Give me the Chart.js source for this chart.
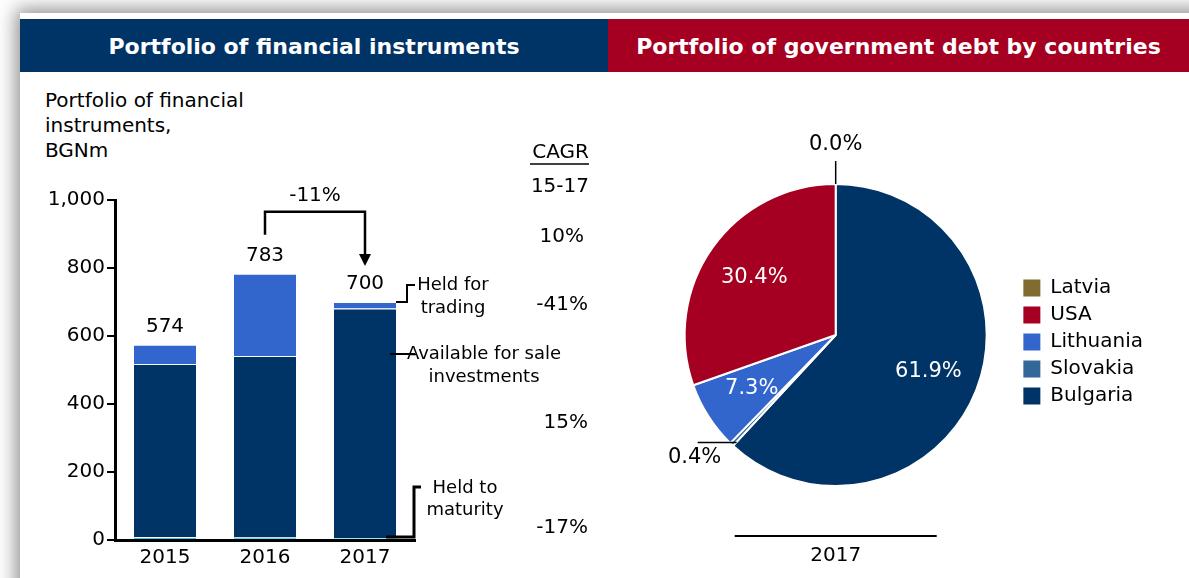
<!DOCTYPE html>
<html>
<head>
<meta charset="utf-8">
<script src="https://cdn.jsdelivr.net/npm/chart.js@4.4.0/dist/chart.umd.min.js"></script>
<style>
  html, body { margin: 0; padding: 0; width: 1189px; height: 578px; overflow: hidden; background: #fff; font-family: "DejaVu Sans", Verdana, sans-serif; }
  #frame { position: absolute; left: 20px; top: 13px; width: 1300px; height: 700px; background: #fff; box-shadow: 0 0 18px 4px rgba(0,0,0,0.45); }
  .hdr { position: absolute; top: 19px; height: 53px; line-height: 55px; color: #fff; font-weight: bold; font-size: 22px; text-align: center; }
  #h1 { left: 20px; width: 588px; background: #003366; }
  #h2 { left: 608px; width: 581px; background: #a50021; }
  #ytitle { position: absolute; left: 45px; top: 88px; font-size: 20px; line-height: 25px; color: #000; }
  canvas { position: absolute; }
</style>
</head>
<body>
<div id="frame"></div>
<div class="hdr" id="h1">Portfolio of financial instruments</div>
<div class="hdr" id="h2">Portfolio of government debt by countries</div>
<div id="ytitle">Portfolio of financial<br>instruments,<br>BGNm</div>
<canvas id="bars" width="608" height="578" style="left:0;top:0"></canvas>
<canvas id="pie" width="581" height="506" style="left:608px;top:72px"></canvas>
<script>
// bar chart data, BGNm
var years = ["2015", "2016", "2017"];
var heldToMaturity = [9, 7, 6.2];
var availableForSale = [509, 534, 674.5];
var heldForTrading = [56, 242, 19.5];
var yMax = 1000;
var yStep = 200;

// pie data, % of government debt, 2017
var countries = ["Bulgaria", "Slovakia", "Lithuania", "USA", "Latvia"];
var debtShare = [61.9, 0.4, 7.3, 30.4, 0.0];
var countryColors = ["#003366", "#336699", "#3366cc", "#a50021", "#7f6d2f"];

var totals = years.map(function (y, i) {
  return heldToMaturity[i] + availableForSale[i] + heldForTrading[i];
});
function cagr(a) {
  var r = Math.pow(a[a.length - 1] / a[0], 1 / (a.length - 1)) - 1;
  return Math.round(r * 100) + "%";
}

Chart.defaults.font.family = "'DejaVu Sans', Verdana, sans-serif";
Chart.defaults.color = "#000";

var barNotes = {
  id: "barNotes",
  afterDatasetsDraw: function (chart) {
    var ctx = chart.ctx, x = chart.scales.x, y = chart.scales.y;
    ctx.save();
    ctx.fillStyle = "#000";
    ctx.strokeStyle = "#000";
    ctx.textAlign = "center";
    ctx.textBaseline = "middle";
    ctx.font = "20px 'DejaVu Sans'";
    totals.forEach(function (t, i) {
      ctx.fillText(Math.round(t), x.getPixelForValue(i), y.getPixelForValue(t) - 18);
    });

    // change 2016 -> 2017
    var x1 = x.getPixelForValue(1), x2 = x.getPixelForValue(2);
    var t1 = y.getPixelForValue(totals[1]), t2 = y.getPixelForValue(totals[2]);
    var top = t1 - 62;
    ctx.lineWidth = 2.5;
    ctx.beginPath();
    ctx.moveTo(x1, t1 - 39);
    ctx.lineTo(x1, top);
    ctx.lineTo(x2, top);
    ctx.lineTo(x2, t2 - 46);
    ctx.stroke();
    ctx.beginPath();
    ctx.moveTo(x2 - 6, t2 - 48);
    ctx.lineTo(x2 + 6, t2 - 48);
    ctx.lineTo(x2, t2 - 36);
    ctx.closePath();
    ctx.fill();
    var ch = Math.round((totals[2] / totals[1] - 1) * 100) + "%";
    ctx.fillText(ch, (x1 + x2) / 2, top - 16);

    // series labels with leader lines
    ctx.font = "18px 'DejaVu Sans'";
    ctx.fillText("Held for", 453, 285);
    ctx.fillText("trading", 453, 308);
    ctx.fillText("Available for sale", 484, 354);
    ctx.fillText("investments", 484, 377);
    ctx.fillText("Held to", 465, 488);
    ctx.fillText("maturity", 465, 510);
    ctx.lineWidth = 2;
    ctx.beginPath();
    ctx.moveTo(396, 302); ctx.lineTo(407, 302); ctx.lineTo(407, 285); ctx.lineTo(415, 285);
    ctx.moveTo(390, 354); ctx.lineTo(415, 354);
    ctx.stroke();
    ctx.lineWidth = 3;
    ctx.beginPath();
    ctx.moveTo(386, 537); ctx.lineTo(414, 537); ctx.lineTo(414, 487); ctx.lineTo(421, 487);
    ctx.stroke();

    // CAGR column
    ctx.font = "20px 'DejaVu Sans'";
    ctx.textAlign = "right";
    ctx.fillText("CAGR", 589, 153);
    ctx.lineWidth = 1.5;
    ctx.beginPath(); ctx.moveTo(530, 164); ctx.lineTo(589, 164); ctx.stroke();
    ctx.fillText("15-17", 589, 187);
    ctx.fillText(cagr(totals), 584, 237);
    ctx.fillText(cagr(heldForTrading), 588, 305);
    ctx.fillText(cagr(availableForSale), 588, 423);
    ctx.fillText(cagr(heldToMaturity), 588, 528);
    ctx.restore();
  }
};

new Chart(document.getElementById("bars"), {
  type: "bar",
  data: {
    labels: years,
    datasets: [
      { label: "Held to maturity", data: heldToMaturity, backgroundColor: "#33ccee" },
      { label: "Available for sale investments", data: availableForSale, backgroundColor: "#003366" },
      { label: "Held for trading", data: heldForTrading, backgroundColor: "#3366cc" }
    ]
  },
  options: {
    responsive: false,
    animation: false,
    layout: { padding: { left: 0, right: 193, top: 200, bottom: 0 } },
    datasets: { bar: { borderColor: "#ffffff", borderWidth: 1, categoryPercentage: 0.8, barPercentage: 0.8 } },
    scales: {
      x: {
        stacked: true,
        afterFit: function (s) { s.height = 38; },
        grid: { display: false, drawTicks: false },
        border: { color: "#000", width: 3 },
        ticks: { font: { size: 20 }, padding: 6, color: "#000" }
      },
      y: {
        stacked: true,
        min: 0,
        max: yMax,
        afterFit: function (s) { s.width = 115; },
        grid: { drawOnChartArea: false, drawTicks: true, tickLength: 8, color: "#000", lineWidth: 2 },
        border: { color: "#000", width: 3 },
        ticks: {
          stepSize: yStep,
          font: { size: 20 },
          padding: 2,
          color: "#000",
          callback: function (v) { return v.toLocaleString("en-US"); }
        }
      }
    },
    plugins: { legend: { display: false }, tooltip: { enabled: false } }
  },
  plugins: [barNotes]
});

var pieLabels = {
  id: "pieLabels",
  afterDatasetsDraw: function (chart) {
    var ctx = chart.ctx, meta = chart.getDatasetMeta(0);
    var cx = meta.data[0].x, cy = meta.data[0].y, R = meta.data[0].outerRadius;
    ctx.save();
    ctx.textAlign = "center";
    ctx.textBaseline = "middle";
    ctx.font = "21px 'DejaVu Sans'";
    meta.data.forEach(function (arc, i) {
      var v = debtShare[i];
      var mid = (arc.startAngle + arc.endAngle) / 2;
      var txt = v.toFixed(1) + "%";
      if (v >= 5) {
        ctx.fillStyle = "#fff";
        ctx.fillText(txt, cx + Math.cos(mid) * R * 0.66, cy + Math.sin(mid) * R * 0.66);
        return;
      }
      var px = cx + Math.cos(mid) * R, py = cy + Math.sin(mid) * R;
      ctx.fillStyle = "#000";
      ctx.strokeStyle = "#000";
      ctx.lineWidth = 1.5;
      ctx.beginPath();
      if (Math.abs(Math.cos(mid)) < 0.2) {
        ctx.moveTo(px, py);
        ctx.lineTo(px, py - 23);
        ctx.stroke();
        ctx.fillText(txt, px, py - 39);
      } else {
        var dir = Math.cos(mid) < 0 ? -1 : 1;
        ctx.moveTo(px - 5 * dir, py - 2);
        ctx.lineTo(px + 34 * dir, py - 2);
        ctx.stroke();
        ctx.fillText(txt, px + 37 * dir, py + 13);
      }
    });
    // year axis under the pie
    ctx.lineWidth = 2;
    ctx.beginPath();
    ctx.moveTo(cx - 101, cy + R + 50);
    ctx.lineTo(cx + 101, cy + R + 50);
    ctx.stroke();
    ctx.fillStyle = "#000";
    ctx.font = "20px 'DejaVu Sans'";
    ctx.fillText("2017", cx, cy + R + 70);
    ctx.restore();
  }
};

new Chart(document.getElementById("pie"), {
  type: "pie",
  data: {
    labels: countries,
    datasets: [{ data: debtShare, backgroundColor: countryColors, borderColor: "#fff", borderWidth: 2 }]
  },
  options: {
    responsive: false,
    animation: false,
    layout: { padding: { left: 47, right: 36, top: 111, bottom: 91 } },
    plugins: {
      tooltip: { enabled: false },
      legend: {
        position: "right",
        reverse: true,
        title: { display: true, text: " ", font: { size: 10 }, padding: 1 },
        labels: {
          boxWidth: 17,
          boxHeight: 17,
          padding: 7,
          color: "#000",
          font: { size: 20 },
          generateLabels: function (chart) {
            var items = Chart.overrides.pie.plugins.legend.labels.generateLabels(chart);
            items.forEach(function (it) { it.lineWidth = 0; it.strokeStyle = it.fillStyle; });
            return items;
          }
        }
      }
    }
  },
  plugins: [pieLabels]
});
</script>
</body>
</html>
